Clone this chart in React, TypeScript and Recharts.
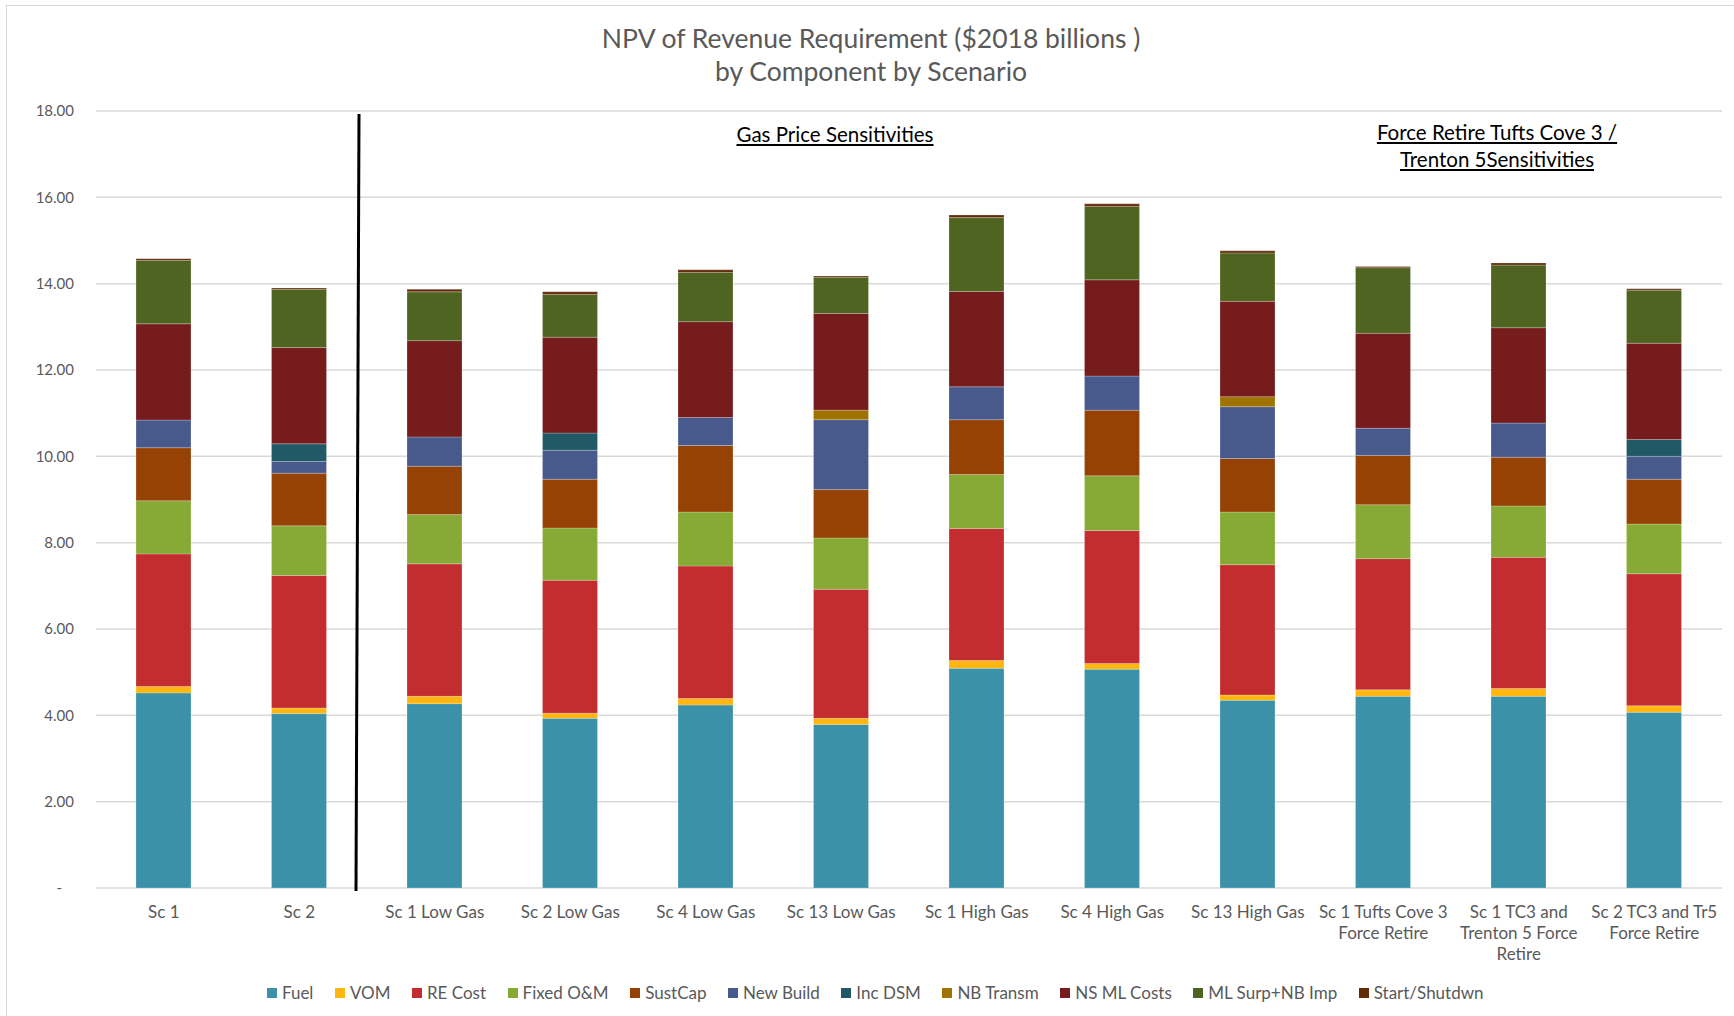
import { Bar, BarChart, CartesianGrid, Legend, XAxis, YAxis } from 'recharts'

// scenario labels, split the way the reference wraps them
const categoryLines: string[][] = [
  ['Sc 1'],
  ['Sc 2'],
  ['Sc 1 Low Gas'],
  ['Sc 2 Low Gas'],
  ['Sc 4 Low Gas'],
  ['Sc 13 Low Gas'],
  ['Sc 1 High Gas'],
  ['Sc 4 High Gas'],
  ['Sc 13 High Gas'],
  ['Sc 1 Tufts Cove 3', 'Force Retire'],
  ['Sc 1 TC3 and', 'Trenton 5 Force', 'Retire'],
  ['Sc 2 TC3 and Tr5', 'Force Retire'],
]
const categories = categoryLines.map((l) => l.join(' '))

// $2018 billions
const fuel = [4.52, 4.04, 4.27, 3.93, 4.24, 3.79, 5.09, 5.07, 4.35, 4.44, 4.44, 4.07]
const vom = [0.15, 0.13, 0.17, 0.12, 0.15, 0.14, 0.18, 0.13, 0.12, 0.15, 0.18, 0.15]
const reCost = [3.07, 3.07, 3.07, 3.08, 3.07, 2.99, 3.06, 3.08, 3.02, 3.04, 3.04, 3.06]
const fixedOM = [1.23, 1.15, 1.14, 1.21, 1.25, 1.19, 1.25, 1.27, 1.22, 1.25, 1.19, 1.15]
const sustCap = [1.23, 1.22, 1.12, 1.13, 1.54, 1.12, 1.27, 1.52, 1.24, 1.14, 1.13, 1.04]
const newBuild = [0.64, 0.27, 0.68, 0.67, 0.65, 1.62, 0.76, 0.79, 1.2, 0.63, 0.79, 0.53]
const incDsm = [0, 0.41, 0, 0.4, 0, 0, 0, 0, 0, 0, 0, 0.39]
const nbTransm = [0, 0, 0, 0, 0, 0.22, 0, 0, 0.23, 0, 0, 0]
const nsMlCosts = [2.23, 2.23, 2.23, 2.22, 2.22, 2.24, 2.21, 2.23, 2.21, 2.2, 2.21, 2.23]
const mlSurpNbImp = [1.47, 1.35, 1.13, 0.99, 1.14, 0.84, 1.71, 1.7, 1.12, 1.52, 1.45, 1.23]
const startShutdwn = [0.04, 0.03, 0.06, 0.06, 0.06, 0.03, 0.06, 0.06, 0.05, 0.03, 0.05, 0.03]

const yTicks = [0, 2, 4, 6, 8, 10, 12, 14, 16, 18]

const series = [
  { key: 'fuel', name: 'Fuel', values: fuel, color: '#3A91A8' },
  { key: 'vom', name: 'VOM', values: vom, color: '#FFB60F' },
  { key: 'reCost', name: 'RE Cost', values: reCost, color: '#C32D2F' },
  { key: 'fixedOM', name: 'Fixed O&M', values: fixedOM, color: '#87A935' },
  { key: 'sustCap', name: 'SustCap', values: sustCap, color: '#974205' },
  { key: 'newBuild', name: 'New Build', values: newBuild, color: '#485A8C' },
  { key: 'incDsm', name: 'Inc DSM', values: incDsm, color: '#215966' },
  { key: 'nbTransm', name: 'NB Transm', values: nbTransm, color: '#A07300' },
  { key: 'nsMlCosts', name: 'NS ML Costs', values: nsMlCosts, color: '#761C1D' },
  { key: 'mlSurpNbImp', name: 'ML Surp+NB Imp', values: mlSurpNbImp, color: '#4F6421' },
  { key: 'startShutdwn', name: 'Start/Shutdwn', values: startShutdwn, color: '#632B0A' },
]

const chartData = categories.map((name, i) => {
  const row: Record<string, string | number> = { name }
  series.forEach((s) => {
    row[s.key] = s.values[i]
  })
  return row
})

const FONT = 'Lato, "Open Sans", sans-serif'
const GREY = '#595959'

function XTick({ x, y, index }: any) {
  const lines = categoryLines[index] || []
  return (
    <text x={x} y={y + 30} textAnchor='middle' fill={GREY} fontSize={17} fontFamily={FONT}>
      {lines.map((line, i) => (
        <tspan key={i} x={x} dy={i === 0 ? 0 : 21}>
          {line}
        </tspan>
      ))}
    </text>
  )
}

function YTick({ x, y, payload }: any) {
  const zero = payload.value === 0
  return (
    <text x={x - 22 - (zero ? 12 : 0)} y={y} dy='0.35em' textAnchor='end' fill={GREY} fontSize={15} fontFamily={FONT}>
      {zero ? '-' : Number(payload.value).toFixed(2)}
    </text>
  )
}

function LegendContent() {
  return (
    <div
      style={{
        display: 'flex',
        justifyContent: 'center',
        height: 20,
        lineHeight: '20px',
        fontFamily: FONT,
        fontSize: 17,
        color: GREY,
        paddingLeft: 14,
      }}
    >
      {series.map((s) => (
        <span key={s.key} style={{ display: 'inline-flex', alignItems: 'center', marginRight: 21.5 }}>
          <span style={{ width: 10, height: 10, background: s.color, marginRight: 5, display: 'inline-block' }} />
          {s.name}
        </span>
      ))}
    </div>
  )
}

export default function App() {
  return (
    <div style={{ position: 'fixed', left: 0, top: 0, width: 1734, height: 1016, background: '#fff', overflow: 'hidden' }}>
      <div style={{ position: 'absolute', left: 6, top: 5, width: 1760, height: 1040, border: '1px solid #d9d9d9' }} />
      <div
        style={{
          position: 'absolute',
          left: 0,
          top: 22,
          width: 1742,
          textAlign: 'center',
          fontFamily: FONT,
          fontSize: 26.5,
          lineHeight: '33px',
          color: GREY,
        }}
      >
        NPV of Revenue Requirement ($2018 billions )
        <br />
        by Component by Scenario
      </div>
      <BarChart
        width={1734}
        height={1016}
        data={chartData}
        margin={{ top: 111, right: 12, bottom: 13, left: 36 }}
        barSize={55}
      >
        <CartesianGrid vertical={false} stroke='#d9d9d9' strokeWidth={1.5} />
        <XAxis
          dataKey='name'
          interval={0}
          tick={<XTick />}
          tickLine={false}
          axisLine={false}
          tickSize={0}
          tickMargin={0}
          height={95}
        />
        <YAxis
          domain={[0, 18]}
          ticks={yTicks}
          tick={<YTick />}
          tickLine={false}
          axisLine={false}
          tickSize={0}
          tickMargin={0}
          width={60}
        />
        <Legend verticalAlign='bottom' content={<LegendContent />} />
        {series.map((s) => (
          <Bar
            key={s.key}
            dataKey={s.key}
            name={s.name}
            stackId='rr'
            fill={s.color}
            stroke='#ffffff'
            strokeOpacity={0.3}
            strokeWidth={0.75}
            isAnimationActive={false}
          />
        ))}
      </BarChart>
      {/* hand-drawn separator between base scenarios and sensitivities */}
      <svg style={{ position: 'absolute', left: 0, top: 0, pointerEvents: 'none' }} width={1734} height={1016}>
        <line x1={359} y1={114} x2={356} y2={891} stroke='#000' strokeWidth={3} />
      </svg>
      <div
        style={{
          position: 'absolute',
          left: 685,
          top: 121,
          width: 300,
          textAlign: 'center',
          fontFamily: FONT,
          fontSize: 20.5,
          lineHeight: '26px',
          color: '#000',
          textDecoration: 'underline',
        }}
      >
        Gas Price Sensitivities
      </div>
      <div
        style={{
          position: 'absolute',
          left: 1322,
          top: 119,
          width: 350,
          textAlign: 'center',
          fontFamily: FONT,
          fontSize: 20.5,
          lineHeight: '27px',
          color: '#000',
          textDecoration: 'underline',
        }}
      >
        Force Retire Tufts Cove 3 /
        <br />
        Trenton 5Sensitivities
      </div>
    </div>
  )
}
